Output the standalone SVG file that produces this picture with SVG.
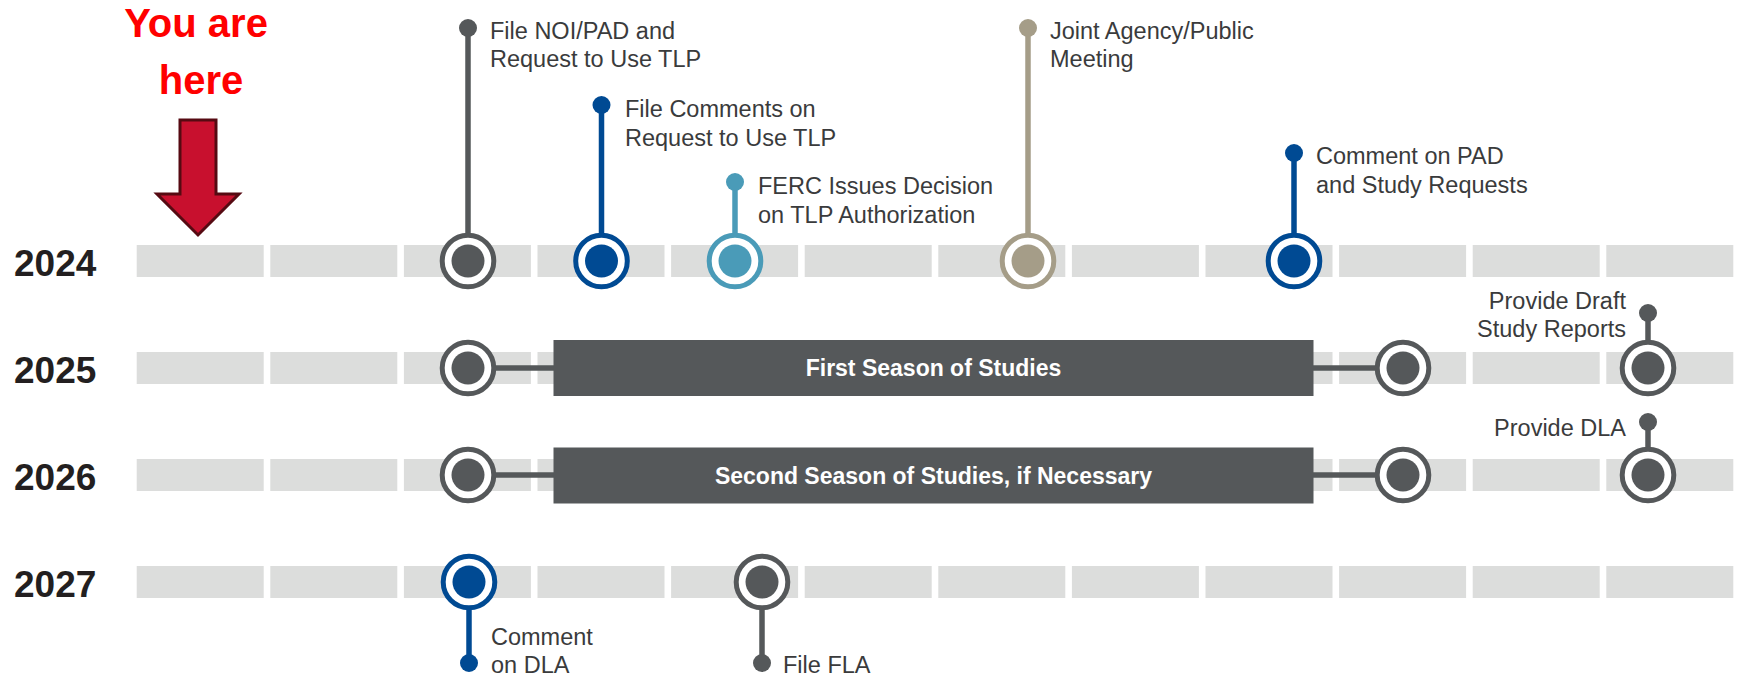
<svg xmlns="http://www.w3.org/2000/svg" width="1745" height="677" viewBox="0 0 1745 677">
<defs>
<style>
.seg{fill:#dcdddc}
.lbl{font-family:"Liberation Sans",Arial,sans-serif;font-size:23.5px;fill:#3a3b3c}
.year{font-family:"Liberation Sans",Arial,sans-serif;font-size:37px;font-weight:bold;fill:#231f20}
.bartxt{font-family:"Liberation Sans",Arial,sans-serif;font-size:23px;font-weight:bold;fill:#ffffff;text-anchor:middle}
.here{font-family:"Liberation Sans",Arial,sans-serif;font-size:40px;font-weight:bold;fill:#ff0000;text-anchor:middle}
.ring{fill:#ffffff;stroke-width:5}
.gray{stroke:#55585a}
.blue{stroke:#004a93}
.teal{stroke:#4a9bb8}
.tan{stroke:#a59d88}
.fgray{fill:#55585a}
.fblue{fill:#004a93}
.fteal{fill:#4a9bb8}
.ftan{fill:#a59d88}
.stem{stroke-width:5.5;fill:none}
.bar{fill:#55585a}
</style>
</defs>
<rect width="1745" height="677" fill="#ffffff"/>

<g id="here-marker">
<text class="here" x="196" y="37">You are</text>
<text class="here" x="201" y="94">here</text>
<polygon points="180,120 216,120 216,194 239,194 198,235 157,194 180,194" fill="#c8102e" stroke="#560a12" stroke-width="3"/>
</g>

<g id="years">
<text class="year" x="14" y="276">2024</text>
<text class="year" x="14" y="383">2025</text>
<text class="year" x="14" y="490">2026</text>
<text class="year" x="14" y="597">2027</text>
</g>

<g id="timeline-bars">
<g id="row-2024">
<rect class="seg" x="136.7" y="245" width="127" height="32"/><rect class="seg" x="270.3" y="245" width="127" height="32"/><rect class="seg" x="403.9" y="245" width="127" height="32"/><rect class="seg" x="537.5" y="245" width="127" height="32"/><rect class="seg" x="671.1" y="245" width="127" height="32"/><rect class="seg" x="804.7" y="245" width="127" height="32"/><rect class="seg" x="938.3" y="245" width="127" height="32"/><rect class="seg" x="1071.9" y="245" width="127" height="32"/><rect class="seg" x="1205.5" y="245" width="127" height="32"/><rect class="seg" x="1339.1" y="245" width="127" height="32"/><rect class="seg" x="1472.7" y="245" width="127" height="32"/><rect class="seg" x="1606.3" y="245" width="127" height="32"/>
</g>
<g id="row-2025">
<rect class="seg" x="136.7" y="352" width="127" height="32"/><rect class="seg" x="270.3" y="352" width="127" height="32"/><rect class="seg" x="403.9" y="352" width="127" height="32"/><rect class="seg" x="537.5" y="352" width="127" height="32"/><rect class="seg" x="671.1" y="352" width="127" height="32"/><rect class="seg" x="804.7" y="352" width="127" height="32"/><rect class="seg" x="938.3" y="352" width="127" height="32"/><rect class="seg" x="1071.9" y="352" width="127" height="32"/><rect class="seg" x="1205.5" y="352" width="127" height="32"/><rect class="seg" x="1339.1" y="352" width="127" height="32"/><rect class="seg" x="1472.7" y="352" width="127" height="32"/><rect class="seg" x="1606.3" y="352" width="127" height="32"/>
</g>
<g id="row-2026">
<rect class="seg" x="136.7" y="459" width="127" height="32"/><rect class="seg" x="270.3" y="459" width="127" height="32"/><rect class="seg" x="403.9" y="459" width="127" height="32"/><rect class="seg" x="537.5" y="459" width="127" height="32"/><rect class="seg" x="671.1" y="459" width="127" height="32"/><rect class="seg" x="804.7" y="459" width="127" height="32"/><rect class="seg" x="938.3" y="459" width="127" height="32"/><rect class="seg" x="1071.9" y="459" width="127" height="32"/><rect class="seg" x="1205.5" y="459" width="127" height="32"/><rect class="seg" x="1339.1" y="459" width="127" height="32"/><rect class="seg" x="1472.7" y="459" width="127" height="32"/><rect class="seg" x="1606.3" y="459" width="127" height="32"/>
</g>
<g id="row-2027">
<rect class="seg" x="136.7" y="566" width="127" height="32"/><rect class="seg" x="270.3" y="566" width="127" height="32"/><rect class="seg" x="403.9" y="566" width="127" height="32"/><rect class="seg" x="537.5" y="566" width="127" height="32"/><rect class="seg" x="671.1" y="566" width="127" height="32"/><rect class="seg" x="804.7" y="566" width="127" height="32"/><rect class="seg" x="938.3" y="566" width="127" height="32"/><rect class="seg" x="1071.9" y="566" width="127" height="32"/><rect class="seg" x="1205.5" y="566" width="127" height="32"/><rect class="seg" x="1339.1" y="566" width="127" height="32"/><rect class="seg" x="1472.7" y="566" width="127" height="32"/><rect class="seg" x="1606.3" y="566" width="127" height="32"/>
</g>
</g>

<g id="connectors">
<line class="stem gray" x1="468" y1="28" x2="468" y2="236"/>
<line class="stem blue" x1="601.5" y1="105" x2="601.5" y2="236"/>
<line class="stem teal" x1="735" y1="182" x2="735" y2="236"/>
<line class="stem tan" x1="1028" y1="28" x2="1028" y2="236"/>
<line class="stem blue" x1="1294" y1="153" x2="1294" y2="236"/>
<line class="stem gray" x1="468" y1="368" x2="554" y2="368"/>
<line class="stem gray" x1="1313" y1="368" x2="1403" y2="368"/>
<line class="stem gray" x1="468" y1="475" x2="554" y2="475"/>
<line class="stem gray" x1="1313" y1="475" x2="1403" y2="475"/>
<line class="stem gray" x1="1648" y1="313" x2="1648" y2="343"/>
<line class="stem gray" x1="1648" y1="422" x2="1648" y2="450"/>
<line class="stem blue" x1="469" y1="582" x2="469" y2="663"/>
<line class="stem gray" x1="762" y1="582" x2="762" y2="663"/>
</g>

<g id="node-file-noi">
<circle class="fgray" cx="468" cy="28" r="9"/>
<circle class="ring gray" cx="468" cy="261" r="25.8"/>
<circle class="fgray" cx="468" cy="261" r="16.5"/>
<text class="lbl" x="490" y="39">File NOI/PAD and</text>
<text class="lbl" x="490" y="67">Request to Use TLP</text>
</g>

<g id="node-file-comments">
<circle class="fblue" cx="601.5" cy="105" r="9"/>
<circle class="ring blue" cx="601.5" cy="261" r="25.8"/>
<circle class="fblue" cx="601.5" cy="261" r="16.5"/>
<text class="lbl" x="625" y="117">File Comments on</text>
<text class="lbl" x="625" y="145.5">Request to Use TLP</text>
</g>

<g id="node-ferc-decision">
<circle class="fteal" cx="735" cy="182" r="9"/>
<circle class="ring teal" cx="735" cy="261" r="25.8"/>
<circle class="fteal" cx="735" cy="261" r="16.5"/>
<text class="lbl" x="758" y="194">FERC Issues Decision</text>
<text class="lbl" x="758" y="222.5">on TLP Authorization</text>
</g>

<g id="node-joint-meeting">
<circle class="ftan" cx="1028" cy="28" r="9"/>
<circle class="ring tan" cx="1028" cy="261" r="25.8"/>
<circle class="ftan" cx="1028" cy="261" r="16.5"/>
<text class="lbl" x="1050" y="39">Joint Agency/Public</text>
<text class="lbl" x="1050" y="67">Meeting</text>
</g>

<g id="node-comment-pad">
<circle class="fblue" cx="1294" cy="153" r="9"/>
<circle class="ring blue" cx="1294" cy="261" r="25.8"/>
<circle class="fblue" cx="1294" cy="261" r="16.5"/>
<text class="lbl" x="1316" y="164">Comment on PAD</text>
<text class="lbl" x="1316" y="193">and Study Requests</text>
</g>

<g id="node-2025-start">
<circle class="ring gray" cx="468" cy="368" r="25.8"/>
<circle class="fgray" cx="468" cy="368" r="16.5"/>
</g>
<g id="node-first-season">
<rect class="bar" x="553.5" y="340" width="760" height="56"/>
<text class="bartxt" x="933.5" y="376">First Season of Studies</text>
</g>
<g id="node-2025-end">
<circle class="ring gray" cx="1403" cy="368" r="25.8"/>
<circle class="fgray" cx="1403" cy="368" r="16.5"/>
</g>
<g id="node-draft-reports">
<circle class="fgray" cx="1648" cy="313" r="9"/>
<circle class="ring gray" cx="1648" cy="368" r="25.8"/>
<circle class="fgray" cx="1648" cy="368" r="16.5"/>
<text class="lbl" x="1626" y="309" text-anchor="end">Provide Draft</text>
<text class="lbl" x="1626" y="337" text-anchor="end">Study Reports</text>
</g>

<g id="node-2026-start">
<circle class="ring gray" cx="468" cy="475" r="25.8"/>
<circle class="fgray" cx="468" cy="475" r="16.5"/>
</g>
<g id="node-second-season">
<rect class="bar" x="553.5" y="447.5" width="760" height="56"/>
<text class="bartxt" x="933.5" y="483.5">Second Season of Studies, if Necessary</text>
</g>
<g id="node-2026-end">
<circle class="ring gray" cx="1403" cy="475" r="25.8"/>
<circle class="fgray" cx="1403" cy="475" r="16.5"/>
</g>
<g id="node-provide-dla">
<circle class="fgray" cx="1648" cy="422" r="9"/>
<circle class="ring gray" cx="1648" cy="475" r="25.8"/>
<circle class="fgray" cx="1648" cy="475" r="16.5"/>
<text class="lbl" x="1626" y="436" text-anchor="end">Provide DLA</text>
</g>

<g id="node-comment-dla">
<circle class="ring blue" cx="469" cy="582" r="25.8"/>
<circle class="fblue" cx="469" cy="582" r="16.5"/>
<circle class="fblue" cx="469" cy="663" r="9"/>
<text class="lbl" x="491" y="645">Comment</text>
<text class="lbl" x="491" y="673">on DLA</text>
</g>

<g id="node-file-fla">
<circle class="ring gray" cx="762" cy="582" r="25.8"/>
<circle class="fgray" cx="762" cy="582" r="16.5"/>
<circle class="fgray" cx="762" cy="663" r="9"/>
<text class="lbl" x="783" y="673">File FLA</text>
</g>
</svg>
